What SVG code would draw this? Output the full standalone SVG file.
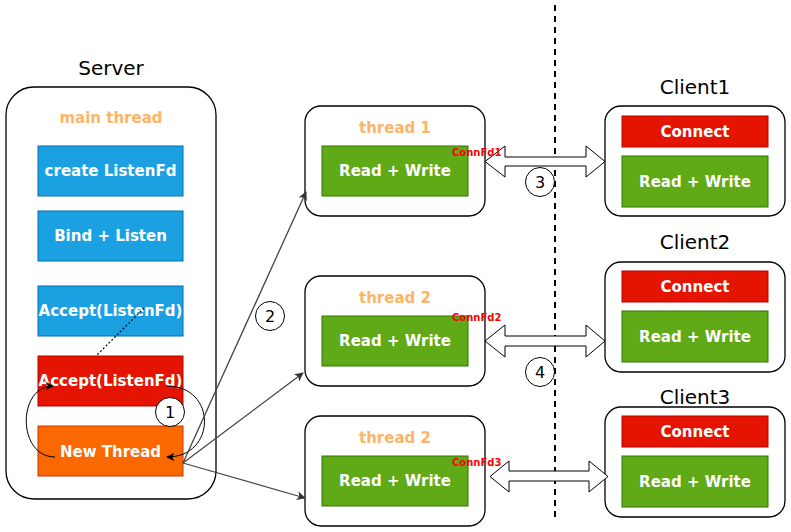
<svg xmlns="http://www.w3.org/2000/svg" width="791" height="532" viewBox="0 0 791 532">
<defs>
<style>
.cont{fill:#fff;stroke:#000;stroke-width:1.3}
.blue{fill:#1BA1E2;stroke:#006EAF}
.red{fill:#E51400;stroke:#B20000}
.orange{fill:#FA6800;stroke:#C73500}
.green{fill:#60A917;stroke:#2D7600}
.t{font-family:"DejaVu Sans",sans-serif;font-weight:bold;font-size:15px;fill:#fff;text-anchor:middle;dominant-baseline:central}
.title{font-family:"DejaVu Sans",sans-serif;font-size:20px;fill:#000;text-anchor:middle;dominant-baseline:central}
.th{font-family:"DejaVu Sans",sans-serif;font-weight:bold;font-size:15px;fill:#FFB366;text-anchor:middle;dominant-baseline:central}
.fd{font-family:"DejaVu Sans",sans-serif;font-weight:bold;font-size:10px;fill:#FF0000;dominant-baseline:central}
.num{font-family:"DejaVu Sans",sans-serif;font-size:16px;fill:#000;text-anchor:middle;dominant-baseline:central}
.circ{fill:#fff;stroke:#000;stroke-width:1}
.conn{fill:none;stroke:#444;stroke-width:1.3}
.flex{fill:#fff;stroke:#000;stroke-width:1}
</style>
<marker id="ah" viewBox="0 0 10 10" refX="9" refY="5" markerWidth="8" markerHeight="8" markerUnits="userSpaceOnUse" orient="auto">
<path d="M0,0 L10,5 L0,10 L2.5,5 Z" fill="#000"/>
</marker>
<marker id="ahg" viewBox="0 0 10 10" refX="9" refY="5" markerWidth="9" markerHeight="9" markerUnits="userSpaceOnUse" orient="auto">
<path d="M0,0 L10,5 L0,10 L2.5,5 Z" fill="#333"/>
</marker>
</defs>

<line x1="555" y1="5" x2="555" y2="518" stroke="#000" stroke-width="2" stroke-dasharray="6,5"/>

<g id="server">
<text class="title" x="111" y="68">Server</text>
<rect class="cont" x="6" y="87" width="210" height="412" rx="28"/>
<text class="th" x="111" y="118">main thread</text>
</g>
<g id="create"><rect class="blue" x="38" y="146" width="145" height="50"/><text class="t" x="110.5" y="171">create ListenFd</text></g>
<g id="bind"><rect class="blue" x="38" y="211" width="145" height="50"/><text class="t" x="110.5" y="236">Bind + Listen</text></g>
<g id="accept1"><rect class="blue" x="38" y="286" width="145" height="50"/><text class="t" x="110.5" y="311">Accept(ListenFd)</text></g>
<g id="accept2"><rect class="red" x="38" y="356" width="145" height="50"/><text class="t" x="110.5" y="381">Accept(ListenFd)</text></g>
<g id="newthread"><rect class="orange" x="38" y="426" width="145" height="50"/><text class="t" x="110.5" y="452">New Thread</text></g>

<g id="thread1">
<rect class="cont" x="305" y="106" width="180" height="110" rx="16"/>
<text class="th" x="395" y="128">thread 1</text>
<rect class="green" x="322" y="146" width="146" height="50"/>
<text class="t" x="395" y="171">Read + Write</text>
</g>
<g id="thread2">
<rect class="cont" x="305" y="276" width="180" height="110" rx="16"/>
<text class="th" x="395" y="298">thread 2</text>
<rect class="green" x="322" y="316" width="146" height="50"/>
<text class="t" x="395" y="341">Read + Write</text>
</g>
<g id="thread3">
<rect class="cont" x="305" y="416" width="180" height="110" rx="16"/>
<text class="th" x="395" y="438">thread 2</text>
<rect class="green" x="322" y="456" width="146" height="50"/>
<text class="t" x="395" y="481">Read + Write</text>
</g>

<g id="client1">
<text class="title" x="695" y="87">Client1</text>
<rect class="cont" x="605" y="106" width="180" height="110" rx="16"/>
<rect class="red" x="622" y="116" width="146" height="31"/>
<text class="t" x="695" y="132">Connect</text>
<rect class="green" x="622" y="156" width="146" height="51"/>
<text class="t" x="695" y="182">Read + Write</text>
</g>
<g id="client2">
<text class="title" x="695" y="242">Client2</text>
<rect class="cont" x="605" y="262" width="180" height="110" rx="16"/>
<rect class="red" x="622" y="271" width="146" height="31"/>
<text class="t" x="695" y="287">Connect</text>
<rect class="green" x="622" y="311" width="146" height="51"/>
<text class="t" x="695" y="337">Read + Write</text>
</g>
<g id="client3">
<text class="title" x="695" y="397">Client3</text>
<rect class="cont" x="605" y="407" width="180" height="110" rx="16"/>
<rect class="red" x="622" y="416" width="146" height="31"/>
<text class="t" x="695" y="432">Connect</text>
<rect class="green" x="622" y="456" width="146" height="51"/>
<text class="t" x="695" y="482">Read + Write</text>
</g>

<g id="connectors">
<line x1="144" y1="308" x2="96" y2="356" stroke="#000" stroke-width="1.2" stroke-dasharray="2,2"/>
<path d="M55,457 C17,457 17,386 53,386" fill="none" stroke="#000" stroke-width="1" marker-end="url(#ah)"/>
<path d="M167,386 C217,386 217,457 167,457" fill="none" stroke="#000" stroke-width="1" marker-end="url(#ah)"/>
<line class="conn" x1="183" y1="463" x2="306" y2="192" marker-end="url(#ahg)"/>
<line class="conn" x1="183" y1="463" x2="303" y2="373" marker-end="url(#ahg)"/>
<line class="conn" x1="183" y1="463" x2="305" y2="498" marker-end="url(#ahg)"/>
<path class="flex" d="M485,161.5 L505,146 L505,157 L586,157 L586,146 L605,161.5 L586,177 L586,166 L505,166 L505,177 Z"/>
<path class="flex" d="M485,341 L505,325 L505,336 L586,336 L586,325 L605,341 L586,357 L586,346 L505,346 L505,357 Z"/>
<path class="flex" d="M490,476.5 L509,461 L509,471 L589,471 L589,461 L608,476.5 L589,492 L589,481 L509,481 L509,492 Z"/>
</g>

<g id="connfd-labels">
<text class="fd" x="452" y="152">ConnFd1</text>
<text class="fd" x="452" y="317">ConnFd2</text>
<text class="fd" x="452" y="462">ConnFd3</text>
</g>

<g id="c1"><circle class="circ" cx="170" cy="412" r="14.5"/><text class="num" x="170" y="412">1</text></g>
<g id="c2"><circle class="circ" cx="270" cy="316" r="14.5"/><text class="num" x="270" y="316">2</text></g>
<g id="c3"><circle class="circ" cx="540" cy="182" r="14.5"/><text class="num" x="540" y="182">3</text></g>
<g id="c4"><circle class="circ" cx="540" cy="372" r="14.5"/><text class="num" x="540" y="372">4</text></g>
</svg>
